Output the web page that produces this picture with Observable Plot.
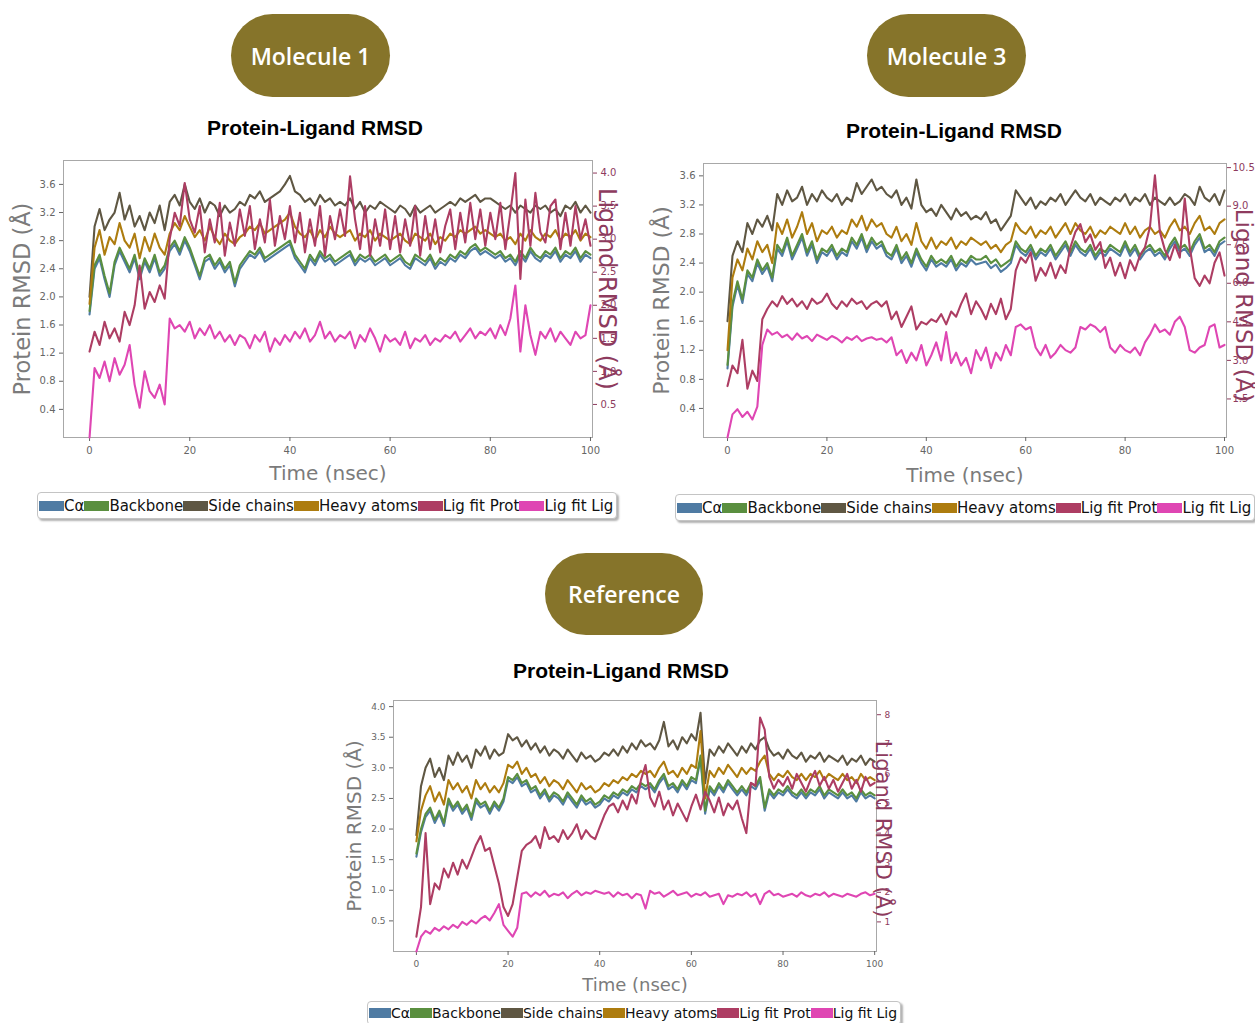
<!DOCTYPE html>
<html><head><meta charset="utf-8">
<script src="https://cdn.jsdelivr.net/npm/d3@7"></script>
<script src="https://cdn.jsdelivr.net/npm/@observablehq/plot@0.6"></script>
<style>
html,body{margin:0;padding:0;background:#fff}
body{width:1255px;height:1023px;position:relative;overflow:hidden;font-family:"DejaVu Sans",sans-serif}
.badge{position:absolute;background:#86742a;color:#fff;border-radius:42px;display:flex;align-items:center;justify-content:center;font-family:"Open Sans",sans-serif;font-weight:600;font-size:23px}
.title{position:absolute;font-family:"Liberation Sans",Arial,sans-serif;font-weight:bold;font-size:21px;line-height:24px;transform:translateX(-50%);white-space:nowrap;color:#000}
.legend{position:absolute;display:flex;align-items:center;border:1px solid #c4c4c4;border-radius:4px;box-shadow:2px 2px 2px rgba(0,0,0,.3);background:#fff;padding:0 3px 0 1px;white-space:nowrap;color:#111}
.legend .sw{display:inline-block;height:10px}
</style>
</head><body>
<script>
// ---------- data ----------
const time = d3.range(0, 101); // nsec
const seriesNames = ["Cα","Backbone","Side chains","Heavy atoms","Lig fit Prot","Lig fit Lig"];
const seriesColors = ["#4f7ba3","#5a8f3f","#5f5743","#ad7c0f","#ad3d63","#df46b3"];
const xTicks = [0,20,40,60,80,100];

// Molecule 1
const m1_ca = [1.75,
2.4,2.55,2.25,2.0,2.45,2.65,2.5,2.35,2.55,2.25,
2.5,2.35,2.55,2.3,2.4,2.65,2.75,2.6,2.8,2.65,
2.45,2.25,2.5,2.55,2.4,2.5,2.35,2.45,2.15,2.4,
2.5,2.6,2.55,2.65,2.5,2.55,2.6,2.65,2.7,2.75,
2.55,2.45,2.35,2.55,2.45,2.6,2.5,2.55,2.45,2.5,
2.55,2.6,2.45,2.55,2.5,2.55,2.45,2.5,2.55,2.45,
2.5,2.55,2.45,2.4,2.55,2.5,2.45,2.55,2.4,2.5,
2.45,2.55,2.5,2.6,2.55,2.65,2.7,2.6,2.65,2.6,
2.55,2.6,2.5,2.55,2.45,2.6,2.5,2.65,2.55,2.5,
2.6,2.55,2.65,2.5,2.6,2.55,2.65,2.5,2.6,2.55];
const m1_backbone = [1.8,
2.45,2.6,2.3,2.05,2.5,2.7,2.55,2.4,2.6,2.3,
2.55,2.4,2.6,2.35,2.45,2.7,2.8,2.65,2.85,2.7,
2.5,2.3,2.55,2.6,2.45,2.55,2.4,2.5,2.2,2.45,
2.55,2.65,2.6,2.7,2.55,2.6,2.65,2.7,2.75,2.8,
2.6,2.5,2.4,2.6,2.5,2.65,2.55,2.6,2.5,2.55,
2.6,2.65,2.5,2.6,2.55,2.6,2.5,2.55,2.6,2.5,
2.55,2.6,2.5,2.45,2.6,2.55,2.5,2.6,2.45,2.55,
2.5,2.6,2.55,2.65,2.6,2.7,2.75,2.65,2.7,2.65,
2.6,2.65,2.55,2.6,2.5,2.65,2.55,2.7,2.6,2.55,
2.65,2.6,2.7,2.55,2.65,2.6,2.7,2.55,2.65,2.6];
const m1_side = [2.0,
3.0,3.25,2.95,3.1,3.2,3.48,3.1,3.3,3.0,3.15,
2.95,3.2,3.05,3.3,2.95,3.35,3.45,3.3,3.6,3.35,
3.25,3.4,3.2,3.35,3.3,3.15,3.3,3.2,3.25,3.35,
3.3,3.45,3.4,3.5,3.35,3.4,3.45,3.5,3.6,3.72,
3.5,3.45,3.35,3.4,3.3,3.45,3.35,3.4,3.3,3.35,
3.3,3.4,3.25,3.35,3.2,3.3,3.25,3.35,3.3,3.25,
3.2,3.3,3.25,3.15,3.3,3.2,3.25,3.3,3.2,3.25,
3.3,3.35,3.3,3.4,3.35,3.4,3.45,3.35,3.4,3.4,
3.35,3.3,3.25,3.3,3.2,3.3,3.25,3.2,3.3,3.25,
3.3,3.2,3.25,3.15,3.3,3.25,3.35,3.2,3.3,3.2];
const m1_heavy = [1.9,
2.7,2.95,2.6,2.85,2.75,3.05,2.8,2.7,2.9,2.55,
2.85,2.65,2.9,2.7,2.6,2.9,3.05,2.95,3.15,3.0,
2.85,2.95,2.8,3.0,2.85,2.75,2.9,2.8,2.75,2.85,
2.9,3.0,2.95,3.05,2.9,2.95,3.0,3.05,3.1,3.2,
3.0,2.9,2.85,2.95,2.8,2.95,2.85,3.0,2.9,2.85,
2.9,2.95,2.8,2.9,2.85,2.95,2.8,2.9,2.85,2.8,
2.85,2.9,2.8,2.75,2.9,2.85,2.8,2.9,2.75,2.85,
2.8,2.9,2.85,2.95,2.9,2.95,3.0,2.9,2.95,2.9,
2.85,2.9,2.8,2.85,2.75,2.9,2.8,2.95,2.85,2.8,
2.9,2.85,2.95,2.8,2.9,2.85,2.95,2.8,2.9,2.85];
const m1_ligProt = [1.3,
1.6,1.4,1.75,1.5,1.65,1.45,1.9,1.7,2.0,2.6,
1.95,2.2,2.05,2.3,2.1,3.0,3.4,3.2,3.85,3.3,
3.1,3.5,2.8,3.3,2.95,3.55,2.75,3.25,2.9,3.45,
3.05,3.5,2.85,3.3,2.95,3.6,2.9,3.35,3.0,3.5,
2.95,3.4,2.8,3.3,2.9,3.5,2.75,3.35,3.0,3.45,
3.05,3.95,3.3,2.85,3.5,2.75,3.3,2.9,3.45,2.85,
3.35,2.8,3.3,2.9,3.5,2.75,3.35,2.85,3.3,2.8,
3.2,3.45,2.85,3.4,2.95,3.55,3.0,3.45,2.9,3.4,
3.0,3.55,2.85,3.4,4.0,2.4,3.6,2.9,3.7,3.1,
2.95,3.5,3.6,2.85,3.4,2.9,3.5,3.0,3.3,2.9];
const m1_ligLig = [0.0,
1.05,0.9,1.15,0.85,1.2,0.95,1.1,1.4,0.8,0.45,
1.0,0.7,0.6,0.8,0.5,1.8,1.65,1.7,1.6,1.75,
1.5,1.65,1.55,1.7,1.5,1.6,1.45,1.55,1.4,1.55,
1.5,1.35,1.55,1.45,1.6,1.3,1.5,1.4,1.55,1.45,
1.6,1.5,1.65,1.45,1.55,1.75,1.5,1.6,1.45,1.55,
1.5,1.6,1.35,1.55,1.45,1.65,1.5,1.3,1.55,1.45,
1.5,1.4,1.6,1.35,1.5,1.45,1.55,1.4,1.5,1.45,
1.55,1.5,1.6,1.45,1.55,1.65,1.5,1.6,1.55,1.65,
1.5,1.7,1.55,1.8,2.3,1.3,2.0,1.55,1.25,1.6,
1.5,1.65,1.45,1.6,1.5,1.4,1.6,1.5,1.55,2.0];

// Molecule 3
const m3_ca = [0.95,
1.8,2.1,1.85,2.25,2.15,2.4,2.25,2.35,2.15,2.6,
2.5,2.7,2.45,2.6,2.75,2.5,2.65,2.4,2.55,2.5,
2.6,2.45,2.55,2.5,2.7,2.6,2.75,2.55,2.7,2.6,
2.65,2.5,2.45,2.6,2.4,2.5,2.35,2.55,2.4,2.3,
2.45,2.35,2.4,2.35,2.45,2.3,2.4,2.35,2.45,2.38,
2.4,2.42,2.33,2.38,2.28,2.33,2.4,2.65,2.55,2.5,
2.6,2.45,2.55,2.5,2.6,2.45,2.55,2.65,2.5,2.65,
2.55,2.5,2.6,2.45,2.55,2.5,2.6,2.55,2.5,2.65,
2.5,2.6,2.45,2.55,2.6,2.5,2.55,2.45,2.6,2.7,
2.55,2.6,2.5,2.65,2.75,2.55,2.6,2.5,2.65,2.7];
const m3_backbone = [1.0,
1.85,2.15,1.9,2.3,2.2,2.45,2.3,2.4,2.2,2.65,
2.55,2.75,2.5,2.65,2.8,2.55,2.7,2.45,2.6,2.55,
2.65,2.5,2.6,2.55,2.75,2.65,2.8,2.6,2.75,2.65,
2.7,2.55,2.5,2.65,2.45,2.55,2.4,2.6,2.45,2.35,
2.5,2.4,2.45,2.4,2.5,2.35,2.45,2.4,2.5,2.45,
2.45,2.5,2.4,2.45,2.35,2.4,2.45,2.7,2.6,2.55,
2.65,2.5,2.6,2.55,2.65,2.5,2.6,2.7,2.55,2.7,
2.6,2.55,2.65,2.5,2.6,2.55,2.65,2.6,2.55,2.7,
2.55,2.65,2.5,2.6,2.65,2.55,2.6,2.5,2.65,2.75,
2.6,2.65,2.55,2.7,2.8,2.6,2.65,2.55,2.7,2.75];
const m3_side = [1.6,
2.5,2.7,2.55,2.95,2.8,3.0,2.9,3.05,2.85,3.35,
3.2,3.4,3.25,3.3,3.45,3.2,3.35,3.25,3.4,3.3,
3.25,3.35,3.2,3.3,3.25,3.5,3.35,3.45,3.55,3.4,
3.45,3.35,3.3,3.4,3.2,3.3,3.15,3.55,3.2,3.1,
3.15,3.05,3.2,3.1,3.0,3.15,3.05,3.1,3.0,3.05,
3.0,3.1,2.95,3.0,2.85,2.95,3.05,3.4,3.3,3.2,
3.3,3.15,3.25,3.2,3.3,3.25,3.35,3.2,3.3,3.4,
3.3,3.25,3.35,3.2,3.3,3.25,3.2,3.3,3.25,3.35,
3.2,3.3,3.25,3.35,3.2,3.3,3.25,3.2,3.3,3.2,
3.25,3.35,3.3,3.2,3.45,3.3,3.25,3.35,3.2,3.4];
const m3_heavy = [1.2,
2.2,2.45,2.3,2.6,2.45,2.7,2.55,2.65,2.4,2.95,
2.8,3.0,2.75,2.9,3.1,2.8,2.95,2.7,2.85,2.8,
2.9,2.75,2.85,2.8,3.0,2.9,3.05,2.85,3.0,2.9,
2.95,2.8,2.75,2.9,2.7,2.8,2.65,2.95,2.7,2.6,
2.75,2.6,2.7,2.65,2.75,2.6,2.7,2.65,2.75,2.7,
2.65,2.7,2.6,2.65,2.55,2.65,2.7,2.95,2.85,2.8,
2.9,2.75,2.85,2.8,2.9,2.75,2.85,2.95,2.8,2.95,
2.85,2.8,2.9,2.75,2.85,2.8,2.9,2.85,2.8,2.95,
2.8,2.9,2.75,2.85,2.9,2.8,2.85,2.75,2.9,3.0,
2.85,2.9,2.8,2.95,3.05,2.85,2.9,2.8,2.95,3.0];
const m3_ligProt = [2.0,
2.8,2.5,3.8,1.9,2.6,2.2,4.6,5.0,5.3,5.1,
5.5,5.2,5.4,5.1,5.3,5.0,5.4,5.2,5.3,5.6,
5.2,5.0,5.3,5.1,5.4,5.2,5.3,5.0,5.2,5.3,
5.1,5.3,4.6,4.9,4.3,4.7,5.1,4.2,4.5,4.4,
4.6,4.5,4.8,4.4,4.9,4.7,5.2,5.6,4.8,5.3,
5.0,4.6,5.2,4.8,5.4,4.6,5.0,6.5,7.0,6.8,
7.2,6.1,6.6,6.3,6.8,6.2,6.7,6.4,7.4,8.0,
8.3,7.6,7.9,7.3,7.6,6.6,7.0,6.3,6.8,6.2,
6.9,6.5,7.1,7.4,8.2,10.2,8.0,7.3,6.9,7.5,
7.0,9.3,7.4,6.2,5.9,6.3,6.0,6.8,7.2,6.3];
const m3_ligLig = [0.0,
0.9,1.1,0.8,1.0,0.7,1.2,3.6,4.2,4.0,4.1,
3.9,4.0,3.8,4.05,3.85,3.95,3.75,4.0,3.9,3.8,
3.95,3.85,3.7,3.9,3.8,3.95,3.75,3.85,3.9,3.8,
3.85,3.7,3.9,3.2,3.4,2.9,3.3,3.0,3.6,2.8,
3.2,3.7,3.0,4.1,2.9,3.3,2.8,3.1,2.5,3.4,
3.0,3.5,2.7,3.3,3.0,3.6,3.2,4.3,4.4,4.2,
4.3,3.5,3.2,3.6,3.1,3.3,3.6,3.4,3.3,3.5,
4.3,4.2,4.4,4.3,4.1,4.3,3.5,3.3,3.6,3.4,
3.3,3.5,3.2,3.7,4.0,4.4,4.1,4.2,4.0,4.5,
4.7,4.3,3.4,3.3,3.5,3.6,4.3,4.4,3.5,3.6];

// Reference
const ref_ca = [1.55,
1.95,2.2,2.3,2.1,2.25,2.05,2.45,2.3,2.4,2.25,
2.35,2.15,2.45,2.35,2.4,2.25,2.4,2.3,2.45,2.8,
2.75,2.85,2.7,2.75,2.6,2.65,2.5,2.6,2.45,2.55,
2.5,2.4,2.55,2.45,2.35,2.5,2.4,2.45,2.35,2.4,
2.5,2.45,2.55,2.5,2.6,2.55,2.65,2.6,2.7,2.65,
2.7,2.6,2.75,2.85,2.65,2.7,2.6,2.75,2.65,2.8,
2.75,3.15,2.25,2.65,2.55,2.7,2.6,2.75,2.65,2.55,
2.65,2.55,2.7,2.65,2.8,2.3,2.6,2.5,2.6,2.55,
2.65,2.55,2.5,2.6,2.5,2.6,2.55,2.65,2.5,2.6,
2.55,2.5,2.6,2.5,2.55,2.45,2.6,2.5,2.55,2.5];
const ref_backbone = [1.6,
2.0,2.25,2.35,2.15,2.3,2.1,2.5,2.35,2.45,2.3,
2.4,2.2,2.5,2.4,2.45,2.3,2.45,2.35,2.5,2.85,
2.8,2.9,2.75,2.8,2.65,2.7,2.55,2.65,2.5,2.6,
2.55,2.45,2.6,2.5,2.4,2.55,2.45,2.5,2.4,2.45,
2.55,2.5,2.6,2.55,2.65,2.6,2.7,2.65,2.75,2.7,
2.75,2.65,2.8,2.9,2.7,2.75,2.65,2.8,2.7,2.85,
2.8,3.2,2.3,2.7,2.6,2.75,2.65,2.8,2.7,2.6,
2.7,2.6,2.75,2.7,2.85,2.35,2.65,2.55,2.65,2.6,
2.7,2.6,2.55,2.65,2.55,2.65,2.6,2.7,2.55,2.65,
2.6,2.55,2.65,2.55,2.6,2.5,2.65,2.55,2.6,2.55];
const ref_side = [1.9,
2.7,3.0,3.15,2.85,3.0,2.8,3.2,3.05,3.25,3.1,
3.2,3.0,3.3,3.2,3.35,3.15,3.3,3.2,3.25,3.55,
3.45,3.5,3.35,3.45,3.3,3.4,3.25,3.35,3.2,3.3,
3.25,3.15,3.3,3.2,3.1,3.25,3.15,3.2,3.1,3.15,
3.25,3.2,3.3,3.2,3.35,3.25,3.4,3.3,3.45,3.35,
3.4,3.3,3.45,3.75,3.35,3.45,3.3,3.5,3.4,3.55,
3.45,3.9,2.75,3.3,3.2,3.35,3.25,3.4,3.3,3.2,
3.35,3.25,3.4,3.3,3.45,3.5,3.3,3.2,3.25,3.15,
3.3,3.2,3.15,3.25,3.1,3.2,3.15,3.25,3.1,3.2,
3.15,3.1,3.2,3.05,3.15,3.1,3.2,3.05,3.15,3.1];
const ref_heavy = [1.8,
2.3,2.55,2.7,2.45,2.6,2.4,2.8,2.65,2.75,2.6,
2.7,2.5,2.8,2.65,2.75,2.6,2.7,2.6,2.75,3.05,
3.0,3.1,2.9,3.0,2.85,2.9,2.75,2.85,2.7,2.8,
2.75,2.65,2.8,2.7,2.6,2.75,2.65,2.7,2.6,2.65,
2.75,2.7,2.8,2.75,2.85,2.8,2.9,2.85,2.95,2.9,
2.95,2.85,3.0,3.1,2.9,2.95,2.85,3.0,2.9,3.05,
3.0,3.6,2.5,2.95,2.85,3.0,2.9,3.05,2.95,2.85,
3.0,2.9,3.0,2.95,3.1,3.2,2.9,2.8,2.9,2.85,
2.95,2.85,2.8,2.9,2.8,2.9,2.85,2.95,2.8,2.9,
2.85,2.8,2.9,2.8,2.85,2.75,2.9,2.8,2.85,2.8];
const ref_ligProt = [0.5,
1.5,4.0,1.6,2.3,2.1,2.8,2.5,3.0,2.6,3.1,
2.8,3.2,3.6,3.9,3.4,3.5,2.9,2.3,1.5,1.2,
1.6,2.5,3.4,3.6,3.7,3.9,3.5,4.2,3.8,3.9,
3.7,4.1,3.8,4.0,4.3,3.8,4.1,3.9,3.8,4.2,
4.6,4.9,5.0,4.7,5.1,4.8,5.3,5.0,5.8,6.3,
5.2,4.9,5.4,4.8,5.1,4.6,5.0,4.7,4.4,4.9,
5.3,4.8,5.4,5.1,4.7,5.2,4.6,5.0,4.8,5.1,
4.5,4.0,5.7,5.6,7.9,7.5,5.9,5.5,5.8,5.6,
5.9,5.5,6.0,5.7,5.4,5.8,6.1,5.6,5.9,5.5,
5.8,5.4,5.7,6.0,5.5,5.8,5.4,5.9,5.6,5.7];
const ref_ligLig = [0.0,
0.5,0.7,0.6,0.8,0.7,0.85,0.75,0.9,0.8,1.0,
0.9,1.05,0.95,1.1,1.2,1.05,1.3,1.6,0.9,0.7,
0.5,0.8,1.95,2.0,1.85,2.0,1.9,2.05,1.85,1.95,
1.9,2.0,1.8,1.95,2.05,1.9,2.0,1.95,2.05,2.0,
1.95,2.0,1.85,2.0,1.9,1.95,1.8,1.95,1.9,1.45,
2.05,1.95,2.0,1.85,1.95,2.05,1.9,1.95,2.0,1.85,
1.95,1.9,2.0,1.85,1.9,1.95,1.6,1.9,1.85,1.95,
1.9,2.0,1.85,1.95,1.6,1.95,2.05,1.9,1.95,1.85,
1.9,1.95,1.85,2.0,1.9,1.85,1.95,1.9,2.0,1.85,
1.95,1.9,1.85,1.95,1.9,1.85,1.95,2.0,1.9,1.95];

// axis tick values
const m1_leftTicks = [0.4,0.8,1.2,1.6,2.0,2.4,2.8,3.2,3.6];
const m1_rightTicks = [0.5,1.0,1.5,2.0,2.5,3.0,3.5,4.0];
const m3_leftTicks = [0.4,0.8,1.2,1.6,2.0,2.4,2.8,3.2,3.6];
const m3_rightTicks = [1.5,3.0,4.5,6.0,7.5,9.0,10.5];
const ref_leftTicks = [0.5,1.0,1.5,2.0,2.5,3.0,3.5,4.0];
const ref_rightTicks = [1,2,3,4,5,6,7,8];

// ---------- drawing ----------
const colorScale = {domain: seriesNames, range: seriesColors};

function toRows(list){
  const rows = [];
  list.forEach(([name, vals]) => vals.forEach((v, i) => rows.push({t: time[i], v, s: name})));
  return rows;
}

function drawPanel(o){
  const wrap = document.createElement("div");
  wrap.style.cssText = `position:absolute;left:${o.left}px;top:${o.top}px;width:${o.width}px;height:${o.height}px;`;
  document.body.appendChild(wrap);
  const prot = toRows(o.protein);
  const lig = toRows(o.ligand);
  const dims = {width:o.width, height:o.height, marginLeft:o.ml, marginRight:o.mr, marginTop:o.mt, marginBottom:o.mb};
  const p1 = Plot.plot({
    ...dims,
    style:{fontFamily:"DejaVu Sans", background:"transparent", overflow:"visible", color:"#666"},
    x:{domain:o.xDomain},
    y:{domain:o.yDomain},
    color: colorScale,
    marks:[
      Plot.frame({stroke:"#a8a8a8"}),
      Plot.axisX({ticks:xTicks, tickSize:4, tickPadding:5, fontSize:o.tick, label:null, tickFormat:d=>String(d)}),
      Plot.axisY({ticks:o.yTicks, tickSize:4, tickPadding:4, fontSize:o.tick, label:null, tickFormat:d=>d.toFixed(1)}),
      Plot.lineY(prot, {x:"t", y:"v", z:"s", stroke:"s", strokeWidth:2.1}),
      Plot.text(["Time (nsec)"], {text:d=>d, frameAnchor:"bottom", dy:o.xlDy, textAnchor:"middle", lineAnchor:"middle", fontSize:o.lab, fill:"#7b7b7b"}),
      Plot.text(["Protein RMSD (Å)"], {text:d=>d, frameAnchor:"left", dx:o.ylDx, dy:o.ylDy, rotate:-90, textAnchor:"middle", lineAnchor:"middle", fontSize:o.ylab, fill:"#7b7b7b"})
    ]
  });
  p1.style.position = "absolute"; p1.style.left = "0px"; p1.style.top = "0px";
  wrap.appendChild(p1);
  const p2 = Plot.plot({
    ...dims,
    style:{fontFamily:"DejaVu Sans", background:"transparent", overflow:"visible", color:"#8e3b5e"},
    x:{domain:o.xDomain, axis:null},
    y:{domain:o.y2Domain},
    color: colorScale,
    marks:[
      Plot.axisY({anchor:"right", ticks:o.y2Ticks, tickSize:4, tickPadding:o.rp, fontSize:o.tick, label:null, tickFormat:o.y2Fmt}),
      Plot.lineY(lig, {x:"t", y:"v", z:"s", stroke:"s", strokeWidth:2.1}),
      Plot.text(["Ligand RMSD (Å)"], {text:d=>d, frameAnchor:"right", dx:o.rlDx, dy:o.rlDy, rotate:90, textAnchor:"middle", lineAnchor:"middle", fontSize:o.rlab, fill:"#8e3b5e"})
    ]
  });
  p2.style.position = "absolute"; p2.style.left = "0px"; p2.style.top = "0px";
  wrap.appendChild(p2);
}

function addBadge(text, left, top, w, h){
  const d = document.createElement("div");
  d.className = "badge";
  d.style.cssText = `left:${left}px;top:${top}px;width:${w}px;height:${h}px;`;
  d.textContent = text;
  document.body.appendChild(d);
}
function addTitle(text, cx, top){
  const d = document.createElement("div");
  d.className = "title";
  d.style.left = cx + "px"; d.style.top = top + "px";
  d.textContent = text;
  document.body.appendChild(d);
}
function addLegend(left, top, h, fs, swW){
  const d = document.createElement("div");
  d.className = "legend";
  d.style.cssText = `left:${left}px;top:${top}px;height:${h}px;font-size:${fs}px;`;
  seriesNames.forEach((n, i) => {
    const sw = document.createElement("span");
    sw.className = "sw"; sw.style.background = seriesColors[i]; sw.style.width = swW + "px";
    const tx = document.createElement("span");
    tx.textContent = n;
    d.appendChild(sw); d.appendChild(tx);
  });
  document.body.appendChild(d);
}

// Molecule 1
addBadge("Molecule 1", 231, 14, 159, 83);
addTitle("Protein-Ligand RMSD", 315, 116);
drawPanel({left:0, top:150, width:640, height:345, ml:63, mr:48, mt:10, mb:58,
  xDomain:[-5.2,100.4], yDomain:[0,3.94], y2Domain:[0,4.19],
  yTicks:m1_leftTicks, y2Ticks:m1_rightTicks, y2Fmt:d=>d.toFixed(1),
  tick:10, lab:20, ylab:22.5, rlab:24, xlDy:36, ylDx:-41, ylDy:0, rlDx:14, rlDy:-10, rp:4,
  protein:[["Cα",m1_ca],["Backbone",m1_backbone],["Side chains",m1_side],["Heavy atoms",m1_heavy]],
  ligand:[["Lig fit Prot",m1_ligProt],["Lig fit Lig",m1_ligLig]]});
addLegend(37, 492, 25, 15, 25);

// Molecule 3
addBadge("Molecule 3", 867, 14, 159, 83);
addTitle("Protein-Ligand RMSD", 954, 119);
drawPanel({left:645, top:150, width:610, height:345, ml:58, mr:29, mt:13, mb:58,
  xDomain:[-4.83,100.4], yDomain:[0,3.77], y2Domain:[0,10.66],
  yTicks:m3_leftTicks, y2Ticks:m3_rightTicks, y2Fmt:d=>d.toFixed(1),
  tick:10, lab:20, ylab:22, rlab:23, xlDy:38, ylDx:-42, ylDy:0, rlDx:17, rlDy:5, rp:2,
  protein:[["Cα",m3_ca],["Backbone",m3_backbone],["Side chains",m3_side],["Heavy atoms",m3_heavy]],
  ligand:[["Lig fit Prot",m3_ligProt],["Lig fit Lig",m3_ligLig]]});
addLegend(675, 494, 25, 15, 25);

// Reference
addBadge("Reference", 545, 553, 158, 82);
addTitle("Protein-Ligand RMSD", 621, 659);
drawPanel({left:330, top:690, width:580, height:310, ml:63, mr:34, mt:10, mb:49,
  xDomain:[-5.0,100.4], yDomain:[0,4.1], y2Domain:[0,8.48],
  yTicks:ref_leftTicks, y2Ticks:ref_rightTicks, y2Fmt:d=>String(d),
  tick:9, lab:18, ylab:20, rlab:21, xlDy:34, ylDx:-39, ylDy:0, rlDx:6, rlDy:3, rp:4,
  protein:[["Cα",ref_ca],["Backbone",ref_backbone],["Side chains",ref_side],["Heavy atoms",ref_heavy]],
  ligand:[["Lig fit Prot",ref_ligProt],["Lig fit Lig",ref_ligLig]]});
addLegend(367, 1001, 22, 14, 22);
</script>
</body></html>
